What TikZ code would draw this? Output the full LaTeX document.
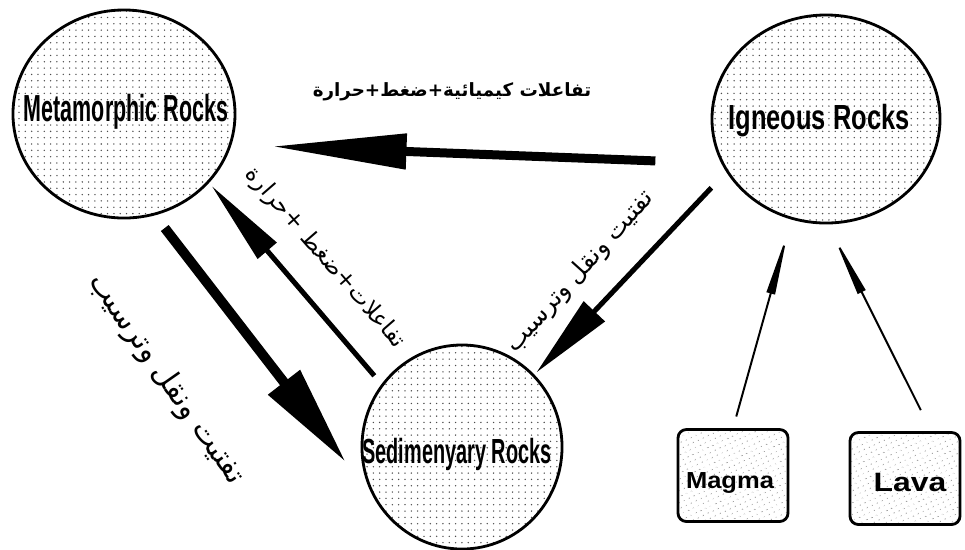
\documentclass[tikz,border=0pt]{standalone}
\usepackage{fontspec}
\newfontfamily\rockfont{Liberation Sans}
\newfontfamily\arabicfont[Script=Arabic]{DejaVu Sans}
\TeXXeTstate=1
\usetikzlibrary{shapes.geometric,arrows.meta,patterns.meta}

\begin{document}
\begin{tikzpicture}[x=0.025cm,y=-0.025cm,
    rock/.style={ellipse,draw,line width=2pt,inner sep=0pt,
        pattern={Dots[distance=4.5pt,radius=.55pt]},pattern color=black!70},
    melt/.style={rectangle,rounded corners=6pt,draw,line width=2pt,
        minimum width=2.75cm,minimum height=2.3cm,
        pattern={Dots[distance=4pt,radius=.45pt,angle=25]},pattern color=black!65},
    rocktext/.style={inner sep=0pt,font=\rockfont\bfseries},
    artext/.style={inner sep=0pt,font=\arabicfont}]
    \useasboundingbox (0,0) rectangle (965,549);

    % the three rocks
    \node[rock,minimum width=5.55cm,minimum height=5.2cm] at (124,114) (met){};
    \node[rock,minimum width=5.7cm,minimum height=5.2cm] at (826,119) (ign){};
    \node[rock,minimum width=5cm,minimum height=5.1cm] at (462,447) (sed){};
    \node[rocktext] at (126,112) (metl){\fontsize{26.8}{30}\selectfont\scalebox{.57}[1]{Metamorphic Rocks}};
    \node[rocktext] at (819,121) (ignl){\fontsize{24.8}{28}\selectfont\scalebox{.73}[1]{Igneous Rocks}};
    \node[rocktext] at (457,454) (sedl){\fontsize{24.8}{28}\selectfont\scalebox{.57}[1]{Sedimenyary Rocks}};

    % sources
    \node[melt] at (733,475.5) (magma){};
    \node[melt] at (905,478.5) (lava){};
    \node[rocktext] at (730,483) (magmal){\fontsize{16.5}{19}\selectfont\scalebox{1.1}[1]{Magma}};
    \node[rocktext] at (910,482.5) (laval){\fontsize{18.9}{22}\selectfont\scalebox{1.2}[1]{Lava}};

    % arrows
    \draw[line width=6.4pt,-{Triangle[length=96pt,width=24pt]},shorten <=1.65cm,shorten >=1cm]
        (ign.203.7) -- (met.-16);
    \draw[line width=7pt,-{Triangle[length=72pt,width=27pt]},shorten <=0.4cm,shorten >=1.175cm]
        (met.-73.8) -- (sed.211.7);
    \draw[line width=3.6pt,-{Triangle[length=61pt,width=17pt]},shorten <=0.275cm,shorten >=0.09cm]
        (sed.142.3) -- (met.-39.2);
    \draw[line width=3.6pt,-{Triangle[length=60pt,width=20pt]},shorten <=0.54cm,shorten >=0.07cm]
        (ign.208.5) -- (sed.45.4);
    \draw[line width=1.4pt,-{Triangle[length=46pt,width=6pt]},shorten <=0.3cm,shorten >=0.3cm]
        (magma.north) -- (ign.251.8);
    \draw[line width=1.4pt,-{Triangle[length=46pt,width=6pt]},shorten <=0.585cm,shorten >=0.275cm]
        (lava.61.2) -- (ign.-89.4);

    % labels
    \node[artext,font=\arabicfont\bfseries\fontsize{13}{15}\selectfont] at (452,92) (heat1){\beginR تفاعلات كيميائية+ضغط+حرارة\endR};
    \node[artext,font=\arabicfont\fontsize{16.5}{19}\selectfont,rotate=-49] at (325,258) (heat2){\beginR تفاعلات+ضغط +حرارة\endR};
    \node[artext,font=\arabicfont\fontsize{17.5}{20}\selectfont,rotate=48] at (580,272) (wear1){\beginR تفتيت ونقل وترسيب\endR};
    \node[artext,font=\arabicfont\fontsize{21}{24}\selectfont,rotate=-55] at (166,379) (wear2){\beginR تفتيت ونقل وترسيب\endR};
\end{tikzpicture}
\end{document}
